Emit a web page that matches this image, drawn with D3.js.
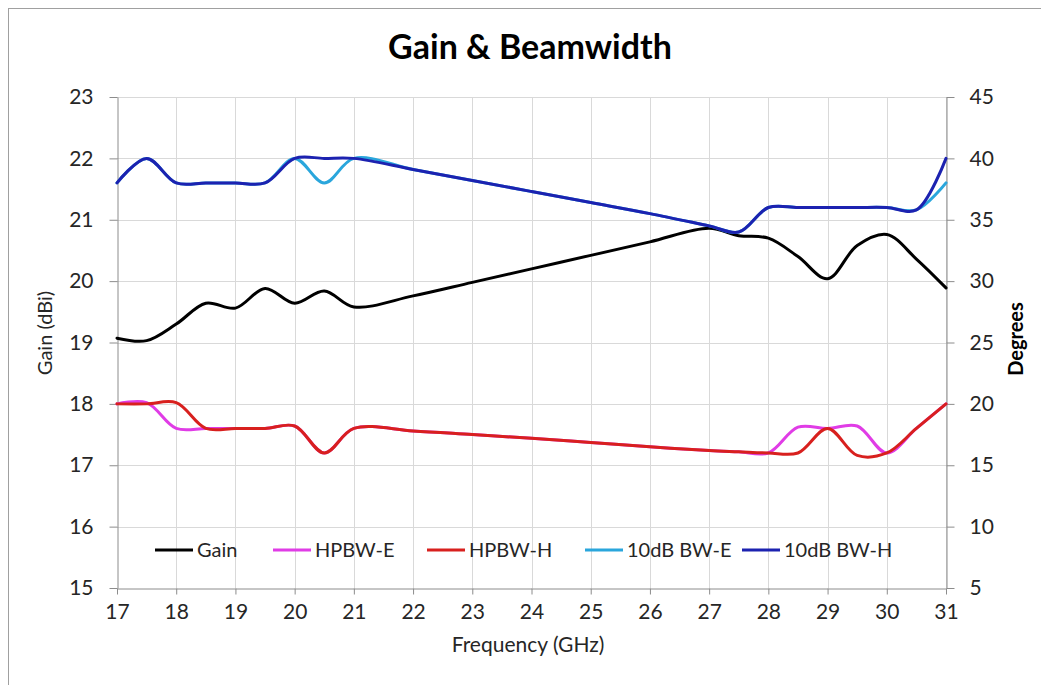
<!DOCTYPE html>
<html>
<head>
<meta charset="utf-8">
<script src="https://cdn.jsdelivr.net/npm/d3@7"></script>
<style>
  body { margin: 0; background: #fff; }
  svg { display: block; font-family: Lato, "Open Sans", sans-serif; }
</style>
</head>
<body>
<div id="vis"></div>
<script>

// frequency points (GHz)
var freq = [17, 17.5, 18, 18.5, 19, 19.5, 20, 20.5, 21, 22, 23, 24, 25, 26, 27, 27.5, 28, 28.5, 29, 29.5, 30, 30.5, 31];

// gain in dBi (left axis)
var gain = [19.07, 19.03, 19.3, 19.64, 19.56, 19.88, 19.64, 19.84, 19.58, 19.76, 19.98, 20.2, 20.42, 20.64, 20.86, 20.74, 20.7, 20.4, 20.04, 20.58, 20.76, 20.36, 19.89];

// beamwidths in degrees (right axis)
var hpbwE = [20, 20.1, 18, 18, 18, 18, 18.2, 16, 18, 17.8, 17.5, 17.2, 16.85, 16.5, 16.2, 16.1, 16, 18.1, 18, 18.2, 16, 18, 20];
var hpbwH = [20, 20, 20.1, 18, 18, 18, 18.2, 16, 18, 17.8, 17.5, 17.2, 16.85, 16.5, 16.2, 16.1, 16, 16, 18, 15.8, 16, 18, 20];
var bw10E = [38, 40, 38, 38, 38, 38, 40, 38, 40, 39.1, 38.2, 37.3, 36.4, 35.5, 34.5, 34, 36, 36, 36, 36, 36, 35.8, 38];
var bw10H = [38, 40, 38, 38, 38, 38, 40, 40, 40, 39.1, 38.2, 37.3, 36.4, 35.5, 34.5, 34, 36, 36, 36, 36, 36, 35.8, 40];

var xTicks = d3.range(17, 32, 1);
var leftTicks = d3.range(15, 24, 1);
var rightTicks = d3.range(5, 50, 5);

var series = [
  { name: 'Gain', values: gain, axis: 'left', color: '#000000' },
  { name: 'HPBW-E', values: hpbwE, axis: 'right', color: '#e03ce6' },
  { name: 'HPBW-H', values: hpbwH, axis: 'right', color: '#d8201e' },
  { name: '10dB BW-E', values: bw10E, axis: 'right', color: '#2aa6dc' },
  { name: '10dB BW-H', values: bw10H, axis: 'right', color: '#1c22b0' }
];

// where each legend entry starts (line start, px)
var legendX = [155, 273, 427, 585, 742];

var width = 1041;
var height = 685;
var plot = { left: 117, right: 946, top: 97, bottom: 588 };

var svg = d3.select('#vis').append('svg')
  .attr('width', width)
  .attr('height', height);

// chart frame
svg.append('rect')
  .attr('x', 8.5).attr('y', 8.5)
  .attr('width', 1100).attr('height', 800)
  .attr('fill', 'none')
  .attr('stroke', '#a0a0a0');

var x = d3.scaleLinear().domain([17, 31]).range([plot.left, plot.right]);
var yLeft = d3.scaleLinear().domain([15, 23]).range([plot.bottom, plot.top]);
var yRight = d3.scaleLinear().domain([5, 45]).range([plot.bottom, plot.top]);

// gridlines
svg.append('g').selectAll('line')
  .data(xTicks.slice(1))
  .enter().append('line')
  .attr('x1', function(d) { return Math.round(x(d)) + 0.5; })
  .attr('x2', function(d) { return Math.round(x(d)) + 0.5; })
  .attr('y1', plot.top).attr('y2', plot.bottom)
  .attr('stroke', '#d9d9d9');

svg.append('g').selectAll('line')
  .data(leftTicks.slice(1))
  .enter().append('line')
  .attr('x1', plot.left).attr('x2', plot.right)
  .attr('y1', function(d) { return Math.round(yLeft(d)) + 0.5; })
  .attr('y2', function(d) { return Math.round(yLeft(d)) + 0.5; })
  .attr('stroke', '#d9d9d9');

// axes
var axisColor = '#8c8c8c';
var tickFont = 21;

function styleAxis(g) {
  g.select('.domain').attr('stroke', axisColor);
  g.selectAll('.tick line').attr('stroke', axisColor);
  g.selectAll('.tick text')
    .attr('fill', '#262626')
    .attr('font-size', tickFont)
    .attr('font-family', 'Lato, sans-serif');
}

svg.append('g')
  .attr('transform', 'translate(0,' + (plot.bottom + 0.5) + ')')
  .call(d3.axisBottom(x).tickValues(xTicks).tickFormat(d3.format('d')).tickSize(6).tickSizeOuter(0).tickPadding(10))
  .call(styleAxis);

svg.append('g')
  .attr('transform', 'translate(' + (plot.left + 0.5) + ',0)')
  .call(d3.axisLeft(yLeft).tickValues(leftTicks).tickFormat(d3.format('d')).tickSize(8).tickSizeOuter(0).tickPadding(16))
  .call(styleAxis);

svg.append('g')
  .attr('transform', 'translate(' + (plot.right + 0.5) + ',0)')
  .call(d3.axisRight(yRight).tickValues(rightTicks).tickFormat(d3.format('d')).tickSize(8).tickSizeOuter(0).tickPadding(15))
  .call(styleAxis);

// lines
var lineLeft = d3.line()
  .x(function(d) { return x(d[0]); })
  .y(function(d) { return yLeft(d[1]); })
  .curve(d3.curveCatmullRom.alpha(0.5));

var lineRight = d3.line()
  .x(function(d) { return x(d[0]); })
  .y(function(d) { return yRight(d[1]); })
  .curve(d3.curveCatmullRom.alpha(0.5));

svg.append('g').selectAll('path')
  .data(series)
  .enter().append('path')
  .attr('fill', 'none')
  .attr('stroke', function(d) { return d.color; })
  .attr('stroke-width', 3)
  .attr('stroke-linejoin', 'round')
  .attr('stroke-linecap', 'round')
  .attr('d', function(d) {
    var pts = d3.zip(freq, d.values);
    return d.axis === 'left' ? lineLeft(pts) : lineRight(pts);
  });

// titles
svg.append('text')
  .attr('x', 530).attr('y', 59)
  .attr('text-anchor', 'middle')
  .attr('font-size', 34)
  .attr('font-weight', 'bold')
  .attr('fill', '#000')
  .text('Gain & Beamwidth');

svg.append('text')
  .attr('x', 528).attr('y', 652)
  .attr('text-anchor', 'middle')
  .attr('font-size', 21)
  .attr('fill', '#262626')
  .text('Frequency (GHz)');

svg.append('text')
  .attr('transform', 'translate(52,333) rotate(-90)')
  .attr('text-anchor', 'middle')
  .attr('font-size', 20)
  .attr('fill', '#262626')
  .text('Gain (dBi)');

svg.append('text')
  .attr('transform', 'translate(1023,339) rotate(-90)')
  .attr('text-anchor', 'middle')
  .attr('font-size', 20)
  .attr('font-weight', 'bold')
  .attr('fill', '#000')
  .text('Degrees');

// legend
var legend = svg.append('g');
var ly = 550;
series.forEach(function(s, i) {
  var lx = legendX[i];
  legend.append('line')
    .attr('x1', lx).attr('x2', lx + 38)
    .attr('y1', ly).attr('y2', ly)
    .attr('stroke', s.color)
    .attr('stroke-width', 3);
  legend.append('text')
    .attr('x', lx + 42).attr('y', ly + 7)
    .attr('font-size', 20)
    .attr('fill', '#262626')
    .text(s.name);
});

</script>
</body>
</html>
